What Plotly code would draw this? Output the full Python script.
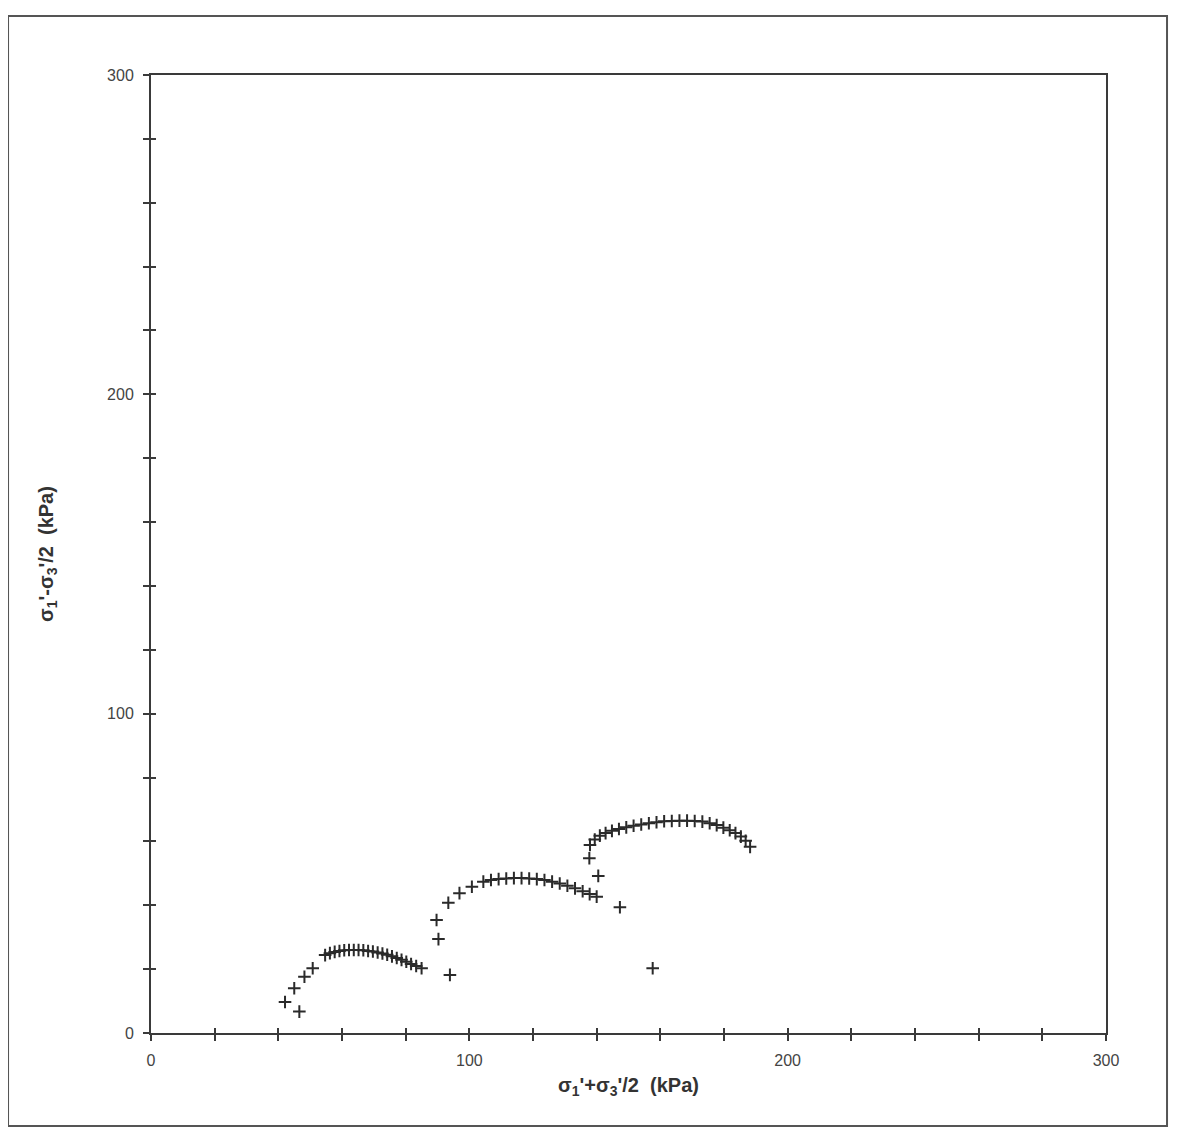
import plotly.graph_objects as go

# Stress path 1
s1_x = [46.6, 42.1, 45.0, 48.2, 50.8,
        54.7, 56.2, 57.7, 59.2, 60.7, 62.2, 63.7, 65.2, 66.7, 68.2, 69.7,
        71.2, 72.7, 74.2, 75.7, 77.2, 78.7, 80.2, 81.7, 83.3, 85.0]
s1_y = [6.7, 9.7, 14.0, 17.6, 20.3,
        24.4, 25.0, 25.4, 25.7, 25.9, 26.0, 26.0, 26.0, 25.9, 25.7, 25.5,
        25.2, 24.9, 24.5, 24.0, 23.5, 22.9, 22.3, 21.6, 21.0, 20.3]

# Stress path 2
s2_x = [93.9, 90.3, 89.7, 93.4, 96.9, 100.8,
        104.4, 106.8, 109.2, 111.6, 114.0, 116.4, 118.8, 121.2, 123.6, 126.0,
        128.4, 130.8, 133.2, 135.6, 137.8, 140.0]
s2_y = [18.2, 29.4, 35.4, 40.8, 43.8, 45.8,
        47.4, 47.9, 48.2, 48.4, 48.5, 48.5, 48.4, 48.2, 47.9, 47.4,
        46.8, 46.1, 45.3, 44.4, 43.5, 42.7]

# Stress path 3
s3_x = [157.6, 147.3, 140.5, 137.7,
        137.9, 139.4, 141.0, 142.8, 144.8, 147.0, 149.3, 151.6, 154.0, 156.4,
        158.8, 161.2, 163.6, 166.0, 168.4, 170.8, 173.2, 175.5, 177.7, 179.8,
        181.8, 183.6, 185.3, 186.8, 188.2]
s3_y = [20.3, 39.4, 49.2, 54.7,
        58.9, 60.6, 61.8, 62.6, 63.3, 63.9, 64.4, 64.9, 65.3, 65.7,
        66.0, 66.3, 66.4, 66.5, 66.5, 66.4, 66.2, 65.7, 65.1, 64.3,
        63.5, 62.6, 61.5, 60.2, 58.3]

x_title = "σ<sub>1</sub>'+σ<sub>3</sub>'/2  (kPa)"
y_title = "σ<sub>1</sub>'-σ<sub>3</sub>'/2  (kPa)"

FONT = "Liberation Sans, Arial, sans-serif"
INK = "#2a2a2a"
mk = dict(symbol="cross-thin", size=9, line=dict(width=2, color=INK), color=INK)

fig = go.Figure()
for xs, ys in [(s1_x, s1_y), (s2_x, s2_y), (s3_x, s3_y)]:
    fig.add_trace(go.Scatter(x=xs, y=ys, mode="markers", marker=mk, showlegend=False))
# invisible copy on the overlay axes so their inside tick marks get drawn
fig.add_trace(go.Scatter(x=s1_x, y=s1_y, xaxis="x2", yaxis="y2", mode="markers",
                         marker=dict(opacity=0), hoverinfo="skip", showlegend=False))

axis_common = dict(
    range=[0, 300], dtick=100, tick0=0,
    showgrid=False, zeroline=False,
    showline=True, linecolor="#3a3a3a", linewidth=2, mirror=True,
    ticks="outside", ticklen=6, tickwidth=1.5, tickcolor="#3a3a3a",
    minor=dict(dtick=20, ticks="outside", ticklen=6, tickwidth=1.5, tickcolor="#3a3a3a", showgrid=False),
    tickfont=dict(family=FONT, size=16, color="#444"),
    ticklabelstandoff=6,
)
title_font = dict(family=FONT, size=20, color="#333", weight="bold")

inner = dict(range=[0, 300], dtick=20, tick0=0,
             ticks="inside", ticklen=5, tickwidth=1.5, tickcolor="#3a3a3a",
             showticklabels=False, showgrid=False, zeroline=False, showline=False)

fig.update_layout(
    width=1177, height=1135,
    margin=dict(l=143, r=79, t=67, b=110),
    paper_bgcolor="white", plot_bgcolor="white",
    font=dict(family=FONT, color="#444"),
    xaxis=dict(**axis_common, title=dict(text=x_title, font=title_font, standoff=10)),
    yaxis=dict(**axis_common, title=dict(text=y_title, font=title_font, standoff=48)),
    xaxis2=dict(overlaying="x", anchor="y", side="bottom", **inner),
    yaxis2=dict(overlaying="y", anchor="x", side="left", **inner),
    shapes=[dict(type="rect", xref="paper", yref="paper",
                 x0=-0.1497, x1=1.0639, y0=-0.0971, y1=1.0616,
                 line=dict(color="#555", width=2), fillcolor="rgba(0,0,0,0)", layer="below")],
)

fig.write_html("out.html")
